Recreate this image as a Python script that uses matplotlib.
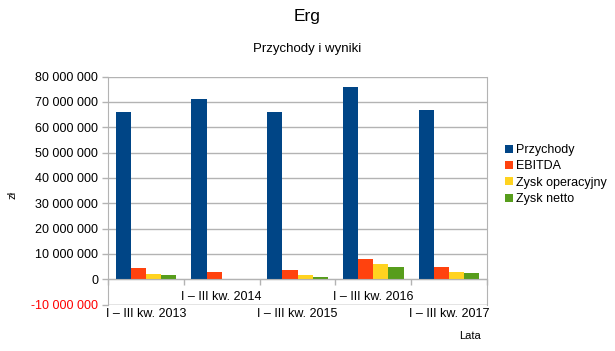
import matplotlib
matplotlib.use("Agg")
import matplotlib.pyplot as plt
from matplotlib.ticker import FuncFormatter, MultipleLocator, FixedLocator
import numpy as np

plt.rcParams['font.family'] = ['Liberation Sans', 'DejaVu Sans']

categories = ["I – III kw. 2013", "I – III kw. 2014", "I – III kw. 2015",
              "I – III kw. 2016", "I – III kw. 2017"]
przychody = [66.1e6, 71.0e6, 66.0e6, 75.7e6, 66.6e6]
ebitda = [4.5e6, 2.9e6, 3.8e6, 8.1e6, 5.0e6]
zysk_oper = [2.0e6, 0.1e6, 1.45e6, 5.8e6, 2.9e6]
zysk_netto = [1.45e6, -0.35e6, 1.05e6, 5.0e6, 2.6e6]
series_names = ["Przychody", "EBITDA", "Zysk operacyjny", "Zysk netto"]
colors = ["#004586", "#ff420e", "#ffd320", "#579d1c"]

fig = plt.figure(figsize=(6.15, 3.51), dpi=100)
ax = fig.add_axes([108/615, 1-304.5/351, (487-108)/615, (304.5-76.5)/351])

x = np.arange(len(categories))
w = 0.2
series = [przychody, ebitda, zysk_oper, zysk_netto]
for i, (vals, name, c) in enumerate(zip(series, series_names, colors)):
    ax.bar(x + (i - 1.5) * w, vals, width=w, color=c, label=name, zorder=3)

ax.set_xlim(-0.5, len(categories) - 0.5)
ax.set_ylim(-10e6, 80e6)
ax.yaxis.set_major_locator(MultipleLocator(10e6))

def fmt(v, pos):
    return f"{int(round(v)):,}".replace(",", " ")
ax.yaxis.set_major_formatter(FuncFormatter(fmt))

ax.grid(axis='y', color='#b3b3b3', linewidth=1, zorder=0)
for s in ['top', 'right', 'left', 'bottom']:
    ax.spines[s].set_color('#b3b3b3')
ax.spines['top'].set_visible(False)
ax.spines['bottom'].set_position(('data', 0))
ax.spines['bottom'].set_zorder(4)
ax.axhline(-10e6, color='#b3b3b3', linewidth=1, zorder=0)

ax.xaxis.set_major_locator(FixedLocator(np.arange(-0.5, len(categories))))
ax.set_xticklabels([])
ax.tick_params(axis='x', length=4, color='#b3b3b3', direction='out', width=1)
ax.tick_params(axis='y', length=4, color='#b3b3b3', direction='out', width=1,
               labelsize=9, pad=3)
fig.canvas.draw()
for t, v in zip(ax.get_yticklabels(), ax.get_yticks()):
    if v < 0:
        t.set_color('red')

for i, cat in enumerate(categories):
    off = -8.5 if i % 2 == 1 else -20.5
    ax.annotate(cat, xy=(i, 0), xytext=(0, off), textcoords='offset points',
                ha='center', va='top', fontsize=9, annotation_clip=False)

fig.text(0.5, 1-16/351, "Erg", ha='center', va='center', fontsize=12.5)
fig.text(0.5, 1-49/351, "Przychody i wyniki", ha='center', va='center', fontsize=9.5)
fig.text(12/615, 1-195/351, "zł", rotation=90, ha='center', va='center', fontsize=8)
fig.text(470/615, 1-336/351, "Lata", ha='center', va='center', fontsize=8)

leg = fig.legend(loc='upper left', bbox_to_anchor=(505/615, 1-144/351),
                 frameon=False, fontsize=9, handlelength=0.6, handleheight=0.6,
                 handletextpad=0.3, labelspacing=0.35, borderpad=0, borderaxespad=0)

fig.savefig("out.png", dpi=100)
